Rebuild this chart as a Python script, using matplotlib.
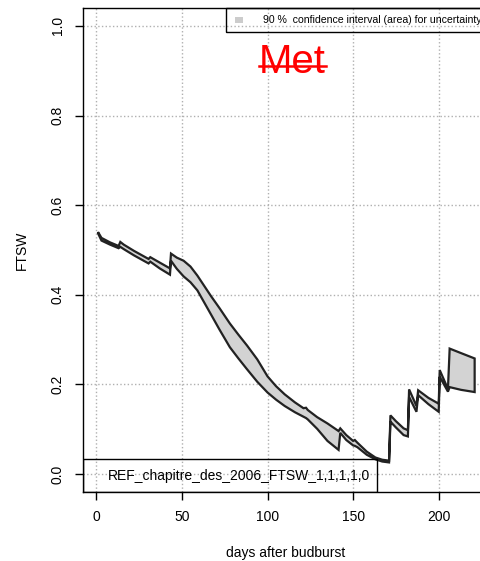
import numpy as np
import matplotlib
matplotlib.use('Agg')
import matplotlib.pyplot as plt
from matplotlib.patches import Rectangle

plt.rcParams['font.family'] = ['Liberation Sans', 'DejaVu Sans']

# dados (dias, limite superior e inferior do FTSW)
days = [1, 3, 8, 13, 14, 16, 22, 30.5, 31.5, 37, 43, 43.6, 47, 51, 55, 59, 63, 67, 72,
        78, 83, 88, 94, 100, 105, 110, 116, 121, 122.5, 123.5, 129, 135, 141.5, 142.5,
        146, 150, 151, 152.5, 158, 163, 167, 171, 171.8, 175, 179.5, 182, 182.7, 187,
        188, 194, 200, 200.6, 205.4, 206.4, 213, 221]
ftsw_upper = [0.540, 0.527, 0.517, 0.509, 0.518, 0.512, 0.498, 0.480, 0.484, 0.472, 0.459,
              0.492, 0.483, 0.476, 0.463, 0.443, 0.420, 0.397, 0.370, 0.336, 0.311, 0.287,
              0.256, 0.218, 0.196, 0.178, 0.160, 0.147, 0.148, 0.143, 0.127, 0.113, 0.096,
              0.102, 0.087, 0.074, 0.076, 0.070, 0.050, 0.037, 0.032, 0.030, 0.131, 0.118,
              0.102, 0.098, 0.189, 0.152, 0.187, 0.170, 0.157, 0.232, 0.190, 0.280, 0.270,
              0.258]
ftsw_lower = [0.537, 0.521, 0.512, 0.504, 0.507, 0.502, 0.488, 0.470, 0.474, 0.459, 0.445,
              0.476, 0.458, 0.441, 0.428, 0.410, 0.383, 0.356, 0.322, 0.283, 0.258, 0.234,
              0.206, 0.182, 0.166, 0.152, 0.138, 0.128, 0.125, 0.122, 0.101, 0.074, 0.054,
              0.092, 0.076, 0.064, 0.063, 0.060, 0.043, 0.033, 0.028, 0.026, 0.117, 0.104,
              0.087, 0.084, 0.172, 0.139, 0.176, 0.156, 0.139, 0.217, 0.184, 0.194, 0.188,
              0.183]

x_ticks = [0, 50, 100, 150, 200]
y_ticks = [0.0, 0.2, 0.4, 0.6, 0.8, 1.0]
legend_text = '90 %  confidence interval (area) for uncertainty'
sim_name = 'REF_chapitre_des_2006_FTSW_1,1,1,1,0'

days = np.array(days)
up = np.array(ftsw_upper)
lo = np.array(ftsw_lower)

fig = plt.figure(figsize=(4.8, 5.61), dpi=100)
# o grafico original esta cortado a direita
ax = fig.add_axes([83/480, 69/561, 405/480, 484/561])

# area de incerteza
ax.fill(np.concatenate([days, days[::-1]]), np.concatenate([up, lo[::-1]]),
        facecolor='#d3d3d3', edgecolor='#222222', linewidth=1.6, zorder=3)

ax.set_xlim(-7.8, 228.8)
ax.set_ylim(-0.04, 1.04)
ax.set_xticks(x_ticks)
ax.set_yticks(y_ticks)
ax.set_yticklabels(['%.1f' % v for v in y_ticks], rotation=90, va='center')
ax.tick_params(direction='out', length=6, width=1, pad=7, labelsize=10)
ax.grid(True, linestyle=':', color='#b0b0b0', linewidth=1)
for s in ax.spines.values():
    s.set_linewidth(1)

ax.set_xlabel('days after budburst', fontsize=10, labelpad=16)
ax.set_ylabel('FTSW', fontsize=10, labelpad=16)

# legenda do topo
ax.add_patch(Rectangle((0.353, 0.950), 0.7, 0.05, transform=ax.transAxes, fill=False,
                       edgecolor='black', linewidth=1, clip_on=False, zorder=5))
ax.add_patch(Rectangle((0.376, 0.969), 0.018, 0.013, transform=ax.transAxes,
                       facecolor='#cccccc', edgecolor='none', clip_on=False, zorder=5))
ax.text(0.444, 0.975, legend_text, transform=ax.transAxes, fontsize=7.6,
        va='center', ha='left', clip_on=False, zorder=5)

# caixa com o nome da simulacao
ax.add_patch(Rectangle((0, 0), 0.726, 0.068, transform=ax.transAxes, fill=False,
                       edgecolor='black', linewidth=1, zorder=5))
ax.text(0.062, 0.034, sim_name, transform=ax.transAxes, fontsize=10,
        va='center', ha='left', zorder=5)

# "Met" riscado em vermelho
ax.text(0.517, 0.889, 'Met', transform=ax.transAxes, fontsize=29, color='red',
        ha='center', va='center', zorder=6)
ax.plot([0.435, 0.600], [0.881, 0.881], transform=ax.transAxes, color='red',
        linewidth=1.8, zorder=6)

plt.savefig('out.png', dpi=100)
